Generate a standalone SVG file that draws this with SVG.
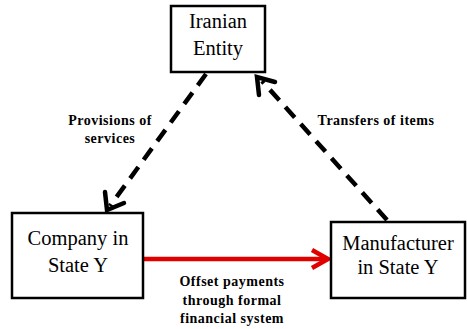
<svg xmlns="http://www.w3.org/2000/svg" width="467" height="329" viewBox="0 0 467 329">
<style>
.box{fill:#fff;stroke:#000;stroke-width:2.5}
.t{font-family:"Liberation Serif","Times New Roman",serif;font-size:20.5px;fill:#000;text-anchor:middle}
.l{font-family:"Liberation Serif","Times New Roman",serif;font-size:14px;letter-spacing:0.5px;font-weight:bold;fill:#000;text-anchor:middle}
.dash{stroke:#000;stroke-width:4.5;stroke-dasharray:14 9;fill:none}
.head{stroke:#000;stroke-width:4.5;fill:none;stroke-linecap:round;stroke-linejoin:miter}
</style>
<rect width="467" height="329" fill="#fff"/>
<g id="connectors">
  <line class="dash" x1="206" y1="74" x2="110" y2="206"/>
  <polyline class="head" points="105,192 107,210 124,203"/>
  <line class="dash" x1="387" y1="220" x2="262" y2="81"/>
  <polyline class="head" points="259,95 257,77 275,82"/>
  <line x1="144" y1="259" x2="326" y2="259" stroke="#e00000" stroke-width="4.5"/>
  <polyline points="312,250 328,259 312,268" fill="none" stroke="#e00000" stroke-width="4.5" stroke-linejoin="miter"/>
  <text class="l" x="110" y="125">Provisions of</text>
  <text class="l" x="110" y="143">services</text>
  <text class="l" x="376" y="125">Transfers of items</text>
  <text class="l" x="232" y="286">Offset payments</text>
  <text class="l" x="232" y="305">through formal</text>
  <text class="l" x="232" y="323">financial system</text>
</g>
<g id="iranian">
  <rect class="box" x="171" y="6" width="94" height="66"/>
  <text class="t" x="218" y="28">Iranian</text>
  <text class="t" x="218" y="55">Entity</text>
</g>
<g id="company">
  <rect class="box" x="12" y="213" width="131" height="85"/>
  <text class="t" x="78" y="245">Company in</text>
  <text class="t" x="78" y="272">State Y</text>
</g>
<g id="manufacturer">
  <rect class="box" x="331" y="222" width="134" height="76"/>
  <text class="t" x="398" y="250">Manufacturer</text>
  <text class="t" x="398" y="274">in State Y</text>
</g>
</svg>
